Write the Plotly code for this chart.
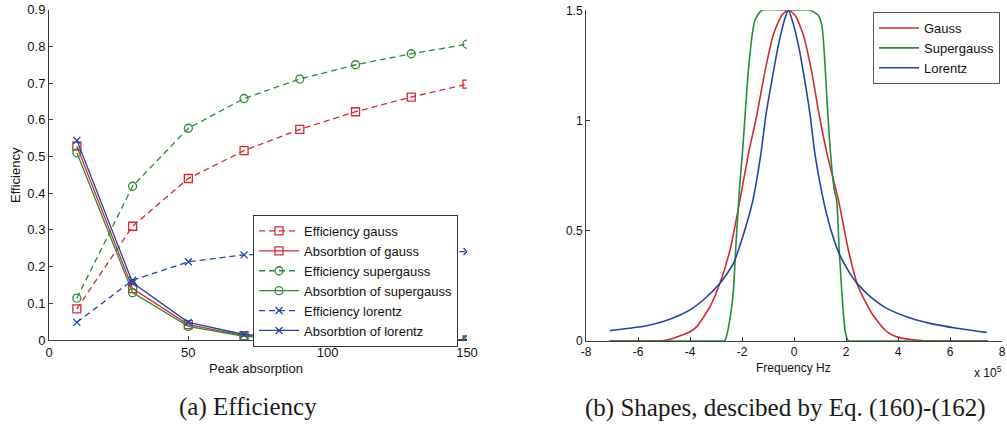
import plotly.graph_objects as go

W, H = 1007, 427

# ---- (a) Efficiency vs peak absorption ----
peak_absorption = [10, 30, 50, 70, 90, 110, 130, 150]
eff_gauss = [0.085, 0.310, 0.440, 0.516, 0.574, 0.622, 0.662, 0.697]
abs_gauss = [0.528, 0.140, 0.042, 0.012, 0.003, 0.001, 0.000, 0.000]
eff_supergauss = [0.114, 0.419, 0.577, 0.658, 0.711, 0.750, 0.780, 0.806]
abs_supergauss = [0.510, 0.129, 0.037, 0.010, 0.002, 0.001, 0.000, 0.000]
eff_lorentz = [0.048, 0.163, 0.213, 0.232, 0.236, 0.238, 0.239, 0.241]
abs_lorentz = [0.544, 0.156, 0.048, 0.015, 0.004, 0.001, 0.000, 0.000]

# ---- (b) Line shapes, frequency in units of 1e5 Hz ----
gauss_f = [-7.10, -5.50, -5.00, -4.70, -4.38, -4.00, -3.74, -3.23, -2.85, -2.46,
           -2.08, -1.76, -1.43, -1.12, -0.80, -0.47, -0.22, 0.04, 0.36, 0.68,
           0.97, 1.28, 1.71, 2.09, 2.47, 2.99, 3.50, 3.82, 4.20, 4.60, 5.00,
           5.50, 7.46]
gauss_v = [0.000, 0.000, 0.002, 0.010, 0.024, 0.042, 0.065, 0.156, 0.262, 0.413,
           0.639, 0.844, 1.025, 1.221, 1.388, 1.478, 1.500, 1.478, 1.388, 1.221,
           1.025, 0.844, 0.639, 0.413, 0.246, 0.126, 0.050, 0.025, 0.012, 0.005,
           0.001, 0.000, 0.000]

super_f = [-7.10, -2.80, -2.67, -2.60, -2.43, -2.33, -2.23, -2.10, -1.99, -1.88,
           -1.76, -1.59, -1.50, -1.24, -0.22, 0.62, 0.93, 1.07, 1.17, 1.28,
           1.41, 1.55, 1.64, 1.74, 1.86, 1.96, 2.06, 2.12, 2.30, 7.46]
super_v = [0.000, 0.000, 0.000, 0.020, 0.126, 0.231, 0.443, 0.685, 0.844, 1.025,
           1.221, 1.403, 1.456, 1.500, 1.500, 1.500, 1.478, 1.433, 1.297, 1.070,
           0.844, 0.685, 0.639, 0.413, 0.186, 0.050, 0.005, 0.000, 0.000, 0.000]

lorentz_f = [-7.08, -6.31, -5.67, -5.03, -4.38, -4.00, -3.49, -2.85, -2.33, -1.90,
             -1.58, -1.28, -1.08, -0.86, -0.60, -0.35, -0.22, -0.09, 0.17, 0.42,
             0.62, 0.81, 1.13, 1.43, 1.73, 2.15, 2.45, 2.80, 3.05, 3.57, 4.33,
             5.23, 6.26, 7.41]
lorentz_v = [0.047, 0.058, 0.069, 0.088, 0.118, 0.141, 0.186, 0.262, 0.352, 0.500,
             0.639, 0.844, 1.025, 1.176, 1.342, 1.463, 1.500, 1.463, 1.342, 1.176,
             1.025, 0.844, 0.639, 0.500, 0.398, 0.307, 0.258, 0.216, 0.190, 0.148,
             0.110, 0.080, 0.058, 0.039]

freq_ticks = [-8, -6, -4, -2, 0, 2, 4, 6, 8]
freq_ticktext = ["-8", "-6", "-4", "-2", "0", "2", "4", "6", "8"]

RED = "#d42a2e"
GREEN = "#2b8a3c"
BLUE = "#2344a4"
AXIS = "#3c3c3c"
TXT = "#111111"
SANS = "Liberation Sans, Arial, sans-serif"
SERIF = "Liberation Serif, Times New Roman, serif"
DASH = "6px,4px"

fig = go.Figure()


def series(y, name, color, symbol, dashed):
    fig.add_trace(go.Scatter(
        x=peak_absorption, y=y, name=name, mode="lines+markers",
        xaxis="x", yaxis="y", legend="legend",
        line=dict(color=color, width=1.3, dash=DASH if dashed else "solid"),
        marker=dict(symbol=symbol, size=8 if symbol != "x-thin" else 7,
                    color=color, line=dict(color=color, width=1.3)),
    ))


series(eff_gauss, "Efficiency gauss", RED, "square-open", True)
series(abs_gauss, "Absorbtion of gauss", RED, "square-open", False)
series(eff_supergauss, "Efficiency supergauss", GREEN, "circle-open", True)
series(abs_supergauss, "Absorbtion of supergauss", GREEN, "circle-open", False)
series(eff_lorentz, "Efficiency lorentz", BLUE, "x-thin", True)
series(abs_lorentz, "Absorbtion of lorentz", BLUE, "x-thin", False)

for fx, fy, name, color in [(gauss_f, gauss_v, "Gauss", RED),
                            (super_f, super_v, "Supergauss", GREEN),
                            (lorentz_f, lorentz_v, "Lorentz", BLUE)]:
    fig.add_trace(go.Scatter(
        x=fx, y=fy, name=name, mode="lines", xaxis="x2", yaxis="y2",
        legend="legend2",
        line=dict(color=color, width=1.6, shape="spline", smoothing=0.6),
    ))


def px_x(p):
    return p / W


def px_y(p):
    return 1 - p / H


def axis_style(size):
    return dict(
        showline=True, linecolor=AXIS, linewidth=1, ticks="inside", ticklen=4,
        tickcolor=AXIS, showgrid=False, zeroline=False, mirror=False,
        automargin=False, tickfont=dict(family=SANS, size=size, color=TXT),
    )


fig.update_layout(
    template="none",
    width=W, height=H, margin=dict(l=0, r=0, t=0, b=0, pad=0),
    paper_bgcolor="white", plot_bgcolor="white", showlegend=True,
    xaxis=dict(domain=[px_x(49), px_x(467)], range=[0, 150], dtick=50,
               anchor="y", **axis_style(13)),
    yaxis=dict(domain=[px_y(340), px_y(9.7)], range=[0, 0.9], dtick=0.1,
               anchor="x", **axis_style(13)),
    xaxis2=dict(domain=[px_x(586), px_x(1002)], range=[-8, 8],
                tickvals=freq_ticks, ticktext=freq_ticktext,
                anchor="y2", **axis_style(12)),
    yaxis2=dict(domain=[px_y(341), px_y(10.3)], range=[0, 1.5],
                tickvals=[0, 0.5, 1, 1.5], ticktext=["0", "0.5", "1", "1.5"],
                anchor="x2", **axis_style(12)),
    legend=dict(x=px_x(253), y=px_y(215), xanchor="left", yanchor="top",
                bgcolor="white", bordercolor="#333333", borderwidth=1,
                font=dict(family=SANS, size=13, color=TXT),
                itemwidth=40, tracegroupgap=0),
    legend2=dict(x=px_x(873), y=px_y(12), xanchor="left", yanchor="top",
                 bgcolor="white", bordercolor="#555555", borderwidth=1,
                 font=dict(family=SANS, size=13, color=TXT),
                 itemwidth=40, tracegroupgap=0),
)

annotations = [
    dict(text="Efficiency", x=px_x(15), y=px_y(175), textangle=-90,
         font=dict(family=SANS, size=13, color=TXT)),
    dict(text="Peak absorption", x=px_x(256), y=px_y(368),
         font=dict(family=SANS, size=13, color=TXT)),
    dict(text="Frequency Hz", x=px_x(793), y=px_y(368),
         font=dict(family=SANS, size=12, color=TXT)),
    dict(text="x 10<sup>5</sup>", x=px_x(988), y=px_y(372),
         font=dict(family=SANS, size=12, color=TXT)),
    dict(text="(a) Efficiency", x=px_x(247.5), y=px_y(407),
         font=dict(family=SERIF, size=25, color="#1a1a1a")),
    dict(text="(b) Shapes, descibed by Eq. (160)-(162)", x=px_x(785), y=px_y(407.5),
         font=dict(family=SERIF, size=25, color="#1a1a1a")),
]
for a in annotations:
    a.update(xref="paper", yref="paper", showarrow=False,
             xanchor="center", yanchor="middle")
fig.update_layout(annotations=annotations)

fig.write_html("out.html")
